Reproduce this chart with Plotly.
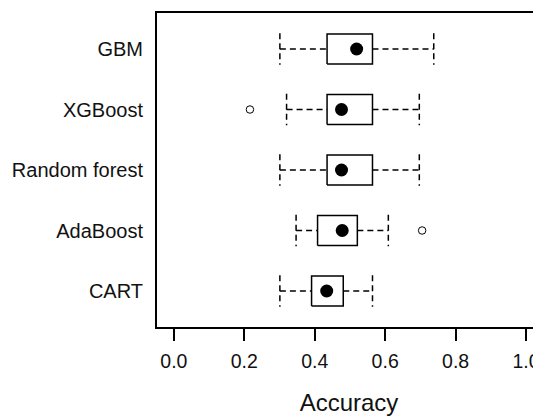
import plotly.graph_objects as go

# Data
models = ["CART", "AdaBoost", "Random forest", "XGBoost", "GBM"]
lower_whisker = [0.301, 0.347, 0.301, 0.320, 0.301]
q1 = [0.391, 0.408, 0.435, 0.435, 0.435]
median = [0.434, 0.478, 0.476, 0.476, 0.519]
q3 = [0.481, 0.521, 0.564, 0.564, 0.564]
upper_whisker = [0.564, 0.609, 0.697, 0.697, 0.738]
outlier_model = ["AdaBoost", "XGBoost"]
outlier_value = [0.705, 0.216]
x_ticks = [0.0, 0.2, 0.4, 0.6, 0.8, 1.0]
x_tick_labels = ["0.0", "0.2", "0.4", "0.6", "0.8", "1.0"]

pos = {m: i + 1 for i, m in enumerate(models)}
half_box = 0.248
half_cap = 0.262

box_x, box_y = [], []
wh_x, wh_y = [], []
cap_x, cap_y = [], []
for m, lo, a, b, hi in zip(models, lower_whisker, q1, q3, upper_whisker):
    y = pos[m]
    box_x += [a, b, b, a, a, None]
    box_y += [y - half_box, y - half_box, y + half_box, y + half_box, y - half_box, None]
    wh_x += [lo, a, None, b, hi, None]
    wh_y += [y, y, None, y, y, None]
    cap_x += [lo, lo, None, hi, hi, None]
    cap_y += [y + half_cap, y - half_cap, None, y + half_cap, y - half_cap, None]

fig = go.Figure()
fig.add_trace(go.Scatter(x=wh_x, y=wh_y, mode="lines",
                         line=dict(color="black", width=1.5, dash="6px,4px"),
                         hoverinfo="skip", showlegend=False))
fig.add_trace(go.Scatter(x=cap_x, y=cap_y, mode="lines",
                         line=dict(color="black", width=1.5, dash="6px,4px"),
                         hoverinfo="skip", showlegend=False))
fig.add_trace(go.Scatter(x=box_x, y=box_y, mode="lines",
                         line=dict(color="black", width=1.5),
                         hoverinfo="skip", showlegend=False))
fig.add_trace(go.Scatter(x=median, y=[pos[m] for m in models], mode="markers",
                         marker=dict(color="black", size=13, symbol="circle"),
                         showlegend=False))
fig.add_trace(go.Scatter(x=outlier_value, y=[pos[m] for m in outlier_model], mode="markers",
                         marker=dict(color="white", size=7.5, symbol="circle",
                                     line=dict(color="black", width=1)),
                         showlegend=False))

# The page body has an 8px default margin, so the figure is sized to fit the
# 541x416 window and its margins are reduced by 8px to keep the same placement.
fig.update_layout(
    width=533, height=408,
    margin=dict(l=149, r=0, t=5, b=89),
    plot_bgcolor="white", paper_bgcolor="white",
    font=dict(family="Liberation Sans, Arial, sans-serif", color="#111111"),
    xaxis=dict(
        range=[-0.048, 1.0426], tickvals=x_ticks, ticktext=x_tick_labels,
        showgrid=False, zeroline=False, automargin=False,
        showline=True, linecolor="black", linewidth=2, mirror=True,
        ticks="outside", ticklen=12, tickwidth=2, tickcolor="black",
        tickfont=dict(size=19.5), ticklabelstandoff=4,
        title=dict(text="Accuracy", font=dict(size=24), standoff=25),
    ),
    yaxis=dict(
        range=[0.405, 5.595], tickvals=[pos[m] for m in models], ticktext=models,
        showgrid=False, zeroline=False, automargin=False,
        showline=True, linecolor="black", linewidth=2,
        ticks="", tickfont=dict(size=20), ticklabelstandoff=8,
    ),
)

fig.write_html("out.html")
